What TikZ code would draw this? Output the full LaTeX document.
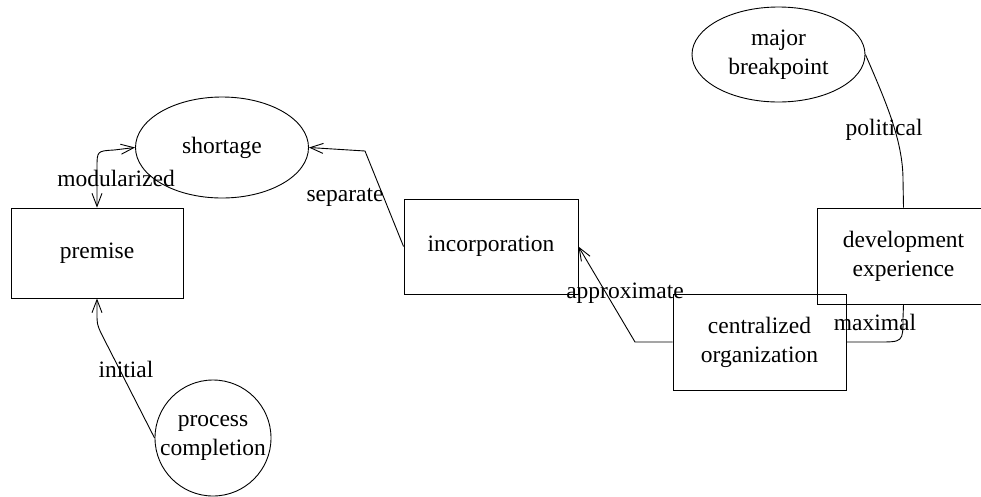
\documentclass[tikz,border=0pt]{standalone}
\usepackage{fontspec}
\setmainfont{Liberation Serif}
\usetikzlibrary{shapes.geometric,arrows.meta}
\begin{document}
\begin{tikzpicture}[x=1pt,y=-1pt,
  every node/.style={font=\fontsize{23.5}{29}\selectfont, align=center, inner sep=0pt},
  box/.style={draw, line width=0.9pt, rectangle},
  oval/.style={draw, line width=0.9pt, ellipse},
  ring/.style={draw, line width=0.9pt, circle},
  link/.style={line width=0.9pt},
  tip/.style={-{Straight Barb[length=13pt,width=10pt,line width=0.9pt]}},
  lbl/.style={}]
\useasboundingbox (0,0) rectangle (981,496);
\node[box, minimum width=172pt, minimum height=90pt] (premise) at (97,253) {premise};
\node[oval, minimum width=173pt, minimum height=101pt] (shortage) at (222,147.5) {shortage};
\node[box, minimum width=174pt, minimum height=95pt] (incorp) at (491,246.5) {incorporation};
\node[ring, minimum size=116pt] (pc) at (213,438) {process\\completion};
\node[box, minimum width=173pt, minimum height=96pt] (co) at (759.5,342) {centralized\\organization};
\node[box, minimum width=173pt, minimum height=96pt] (de) at (903.5,256) {development\\experience};
\node[oval, minimum width=173pt, minimum height=95pt] (mb) at (778.5,54.5) {major\\breakpoint};

\draw[link, {Straight Barb[length=13pt,width=10pt,line width=0.9pt]}-{Straight Barb[length=13pt,width=10pt,line width=0.9pt]}]
  (premise.north) -- (97,168) .. controls (97,151) .. (114,150) -- (shortage.west);
\node[lbl] (lmod) at (116,178) {modularized};

\draw[link, tip] (incorp.west) -- (365,151) -- (shortage.east);
\node[lbl] (lsep) at (345,197) {separate};

\draw[link, tip] (pc.west) -- (101,333) .. controls (97,324) .. (97,312) -- (premise.south);
\node[lbl] (lini) at (126,369) {initial};

\draw[link, tip] (co.west) -- (635,342) -- (incorp.east);
\node[lbl] (lapp) at (625,293) {approximate};

\draw[link] (co.east) -- (878,342) .. controls (903,342) .. (903,318) -- (de.south);
\node[lbl] (lmax) at (875,322) {maximal};

\draw[link] (mb.east) .. controls (885,100) and (903,140) .. (903,180) -- (de.north);
\node[lbl] (lpol) at (884,130) {political};
\end{tikzpicture}
\end{document}
